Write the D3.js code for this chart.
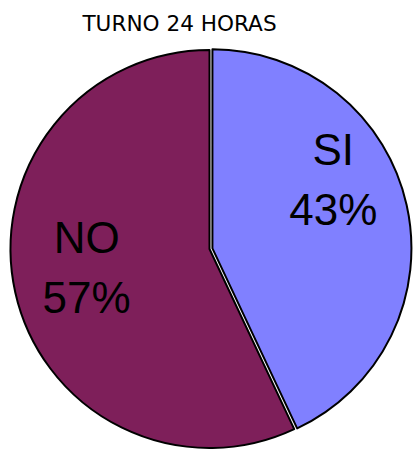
<!DOCTYPE html>
<html>
<head>
<meta charset="utf-8">
<script src="https://cdn.jsdelivr.net/npm/d3@7/dist/d3.min.js"></script>
<style>
  body { margin: 0; background: #fff; }
  svg { display: block; }
</style>
</head>
<body>
<svg id="chart" width="413" height="450"></svg>
<script>
const title = 'TURNO 24 HORAS';
const categories = ['SI', 'NO'];
const values = [43, 57];
const colors = ['#8080ff', '#7e1f5a'];

const width = 413, height = 450;
const cx = 209.5, cy = 249, radius = 199;

const svg = d3.select('#chart');

svg.append('text')
    .attr('x', 179.5)
    .attr('y', 31)
    .attr('text-anchor', 'middle')
    .attr('font-family', 'DejaVu Sans, Verdana, sans-serif')
    .attr('font-size', 21.6)
    .attr('fill', '#000')
    .text(title);

const data = categories.map((c, i) => ({ name: c, value: values[i], color: colors[i] }));

const pie = d3.pie()
    .sort(null)
    .value(d => d.value);

const arcs = pie(data);

const arc = d3.arc()
    .innerRadius(0)
    .outerRadius(radius);

const labelArc = d3.arc()
    .innerRadius(130)
    .outerRadius(130);

const g = svg.append('g')
    .attr('transform', `translate(${cx},${cy})`);

// SI slice is pulled out a little, like the original
const explode = d => {
  if (d.data.name !== 'SI') return [0, 0];
  const a = (d.startAngle + d.endAngle) / 2;
  return [Math.sin(a) * 3, -Math.cos(a) * 3];
};

g.selectAll('.slice')
  .data(arcs)
  .enter()
  .append('path')
    .attr('class', 'slice')
    .attr('transform', d => `translate(${explode(d)})`)
    .attr('d', arc)
    .attr('fill', d => d.data.color)
    .attr('stroke', '#000')
    .attr('stroke-width', 2)
    .attr('stroke-linejoin', 'round');

const labels = g.selectAll('.label')
  .data(arcs)
  .enter()
  .append('text')
    .attr('class', 'label')
    .attr('transform', d => {
      const [x, y] = labelArc.centroid(d);
      const [ex, ey] = explode(d);
      // SI label sits higher than the centroid in the original
      const dy = d.data.name === 'SI' ? -26 : 4;
      const dx = d.data.name === 'SI' ? -6 : 4;
      return `translate(${x + ex + dx},${y + ey + dy})`;
    })
    .attr('text-anchor', 'middle')
    .attr('font-family', 'Liberation Sans, Arial, sans-serif')
    .attr('font-size', 44)
    .attr('fill', '#000');

labels.append('tspan')
    .attr('x', 0)
    .attr('dy', '-0.65em')
    .text(d => d.data.name);

labels.append('tspan')
    .attr('x', 0)
    .attr('dy', '1.36em')
    .text(d => d.data.value + '%');
</script>
</body>
</html>
